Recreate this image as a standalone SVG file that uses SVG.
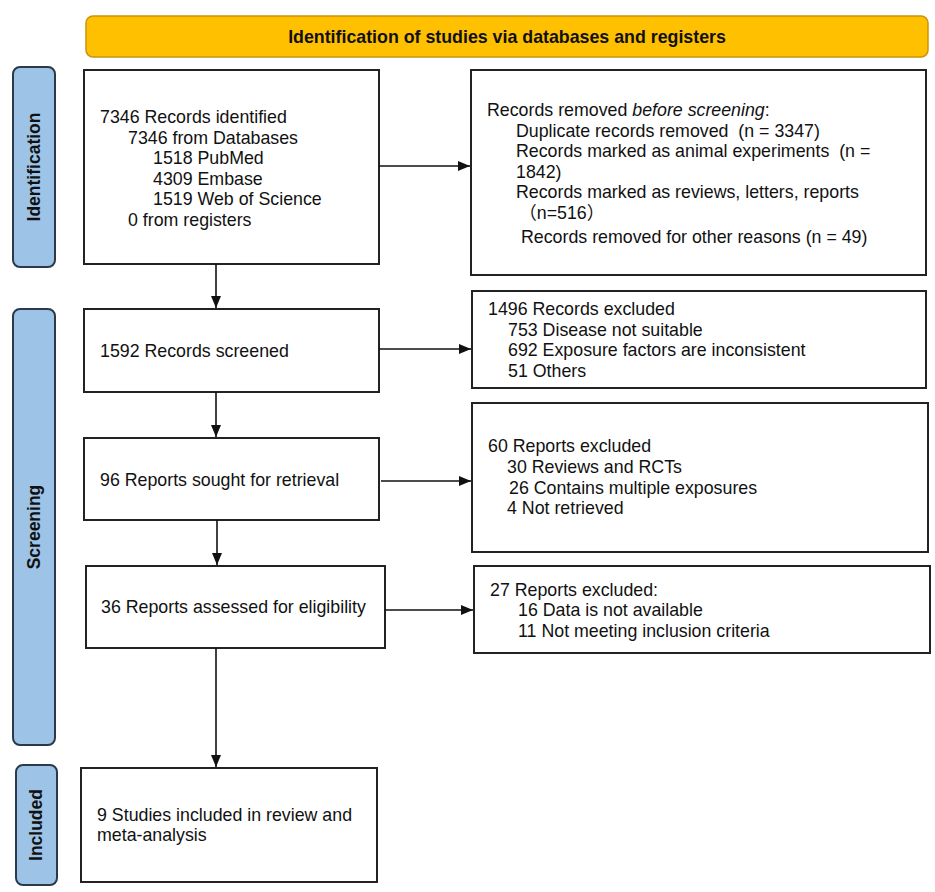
<svg xmlns="http://www.w3.org/2000/svg" width="935" height="892" viewBox="0 0 935 892">
<style>
text{font-family:"Liberation Sans",Arial,"Noto Sans CJK SC",sans-serif;font-size:17.8px;fill:#111;white-space:pre}
.box{fill:#fff;stroke:#222;stroke-width:2}
.side{fill:#9dc3e6;stroke:#2b3a4a;stroke-width:2}
.lbl{font-weight:bold;font-size:17.5px;text-anchor:middle}
.conn{stroke:#111;stroke-width:1.6;fill:none}
</style>
<defs>
<marker id="ah" markerWidth="12" markerHeight="10" refX="12" refY="5" orient="auto" markerUnits="userSpaceOnUse">
<path d="M0,0 L12,5 L0,10 Z" fill="#111"/>
</marker>
</defs>
<rect width="935" height="892" fill="#fff"/>
<g id="banner">
<rect x="86" y="16" width="842" height="41" rx="7" fill="#ffc000" stroke="#c9940a" stroke-width="1.5"/>
<text x="507" y="43" style="font-weight:bold;text-anchor:middle">Identification of studies via databases and registers</text>
</g>
<g id="side-identification">
<rect class="side" x="13" y="67" width="42" height="200" rx="7"/>
<text class="lbl" transform="translate(40,167) rotate(-90)">Identification</text>
</g>
<g id="side-screening">
<rect class="side" x="13" y="309" width="42" height="436" rx="7"/>
<text class="lbl" transform="translate(40,527) rotate(-90)">Screening</text>
</g>
<g id="side-included">
<rect class="side" x="16" y="765" width="41" height="120" rx="7"/>
<text class="lbl" transform="translate(42,825) rotate(-90)">Included</text>
</g>
<g id="identified">
<rect class="box" x="84" y="70" width="295" height="194"/>
<text x="100" y="123">7346 Records identified</text>
<text x="128" y="143.5">7346 from Databases</text>
<text x="153" y="164">1518 PubMed</text>
<text x="153" y="185">4309 Embase</text>
<text x="153" y="205">1519 Web of Science</text>
<text x="128" y="226">0 from registers</text>
</g>
<g id="removed">
<rect class="box" x="471" y="70" width="455" height="205"/>
<text x="487" y="116">Records removed <tspan font-style="italic">before screening</tspan>:</text>
<text x="516" y="137">Duplicate records removed  (n = 3347)</text>
<text x="516" y="157">Records marked as animal experiments  (n =</text>
<text x="516" y="178">1842)</text>
<text x="516" y="198">Records marked as reviews, letters, reports</text>
<text x="519" y="219">（n=516）</text>
<text x="521" y="243">Records removed for other reasons (n = 49)</text>
</g>
<g id="screened">
<rect class="box" x="84" y="309" width="295" height="83"/>
<text x="100" y="357">1592 Records screened</text>
</g>
<g id="excluded1">
<rect class="box" x="472" y="291" width="454" height="97"/>
<text x="488" y="315">1496 Records excluded</text>
<text x="508" y="336">753 Disease not suitable</text>
<text x="508" y="356">692 Exposure factors are inconsistent</text>
<text x="508" y="377">51 Others</text>
</g>
<g id="sought">
<rect class="box" x="84" y="438" width="295" height="82"/>
<text x="100" y="486">96 Reports sought for retrieval</text>
</g>
<g id="excluded2">
<rect class="box" x="472" y="403" width="456" height="149"/>
<text x="488" y="452">60 Reports excluded</text>
<text x="507" y="473">30 Reviews and RCTs</text>
<text x="509" y="494">26 Contains multiple exposures</text>
<text x="507" y="514">4 Not retrieved</text>
</g>
<g id="assessed">
<rect class="box" x="86" y="566" width="299" height="82"/>
<text x="101" y="613">36 Reports assessed for eligibility</text>
</g>
<g id="excluded3">
<rect class="box" x="474" y="566" width="456" height="87"/>
<text x="490" y="596">27 Reports excluded:</text>
<text x="518" y="616">16 Data is not available</text>
<text x="518" y="637">11 Not meeting inclusion criteria</text>
</g>
<g id="included">
<rect class="box" x="81" y="768" width="296" height="114"/>
<text x="97" y="821">9 Studies included in review and</text>
<text x="97" y="841">meta-analysis</text>
</g>
<g id="connectors">
<line class="conn" x1="379" y1="166" x2="470" y2="166" marker-end="url(#ah)"/>
<line class="conn" x1="216" y1="264" x2="216" y2="308" marker-end="url(#ah)"/>
<line class="conn" x1="379" y1="349" x2="471" y2="349" marker-end="url(#ah)"/>
<line class="conn" x1="216" y1="392" x2="216" y2="437" marker-end="url(#ah)"/>
<line class="conn" x1="381" y1="481" x2="471" y2="481" marker-end="url(#ah)"/>
<line class="conn" x1="217" y1="520" x2="217" y2="565" marker-end="url(#ah)"/>
<line class="conn" x1="385" y1="610" x2="473" y2="610" marker-end="url(#ah)"/>
<line class="conn" x1="216" y1="648" x2="216" y2="767" marker-end="url(#ah)"/>
</g>
</svg>
